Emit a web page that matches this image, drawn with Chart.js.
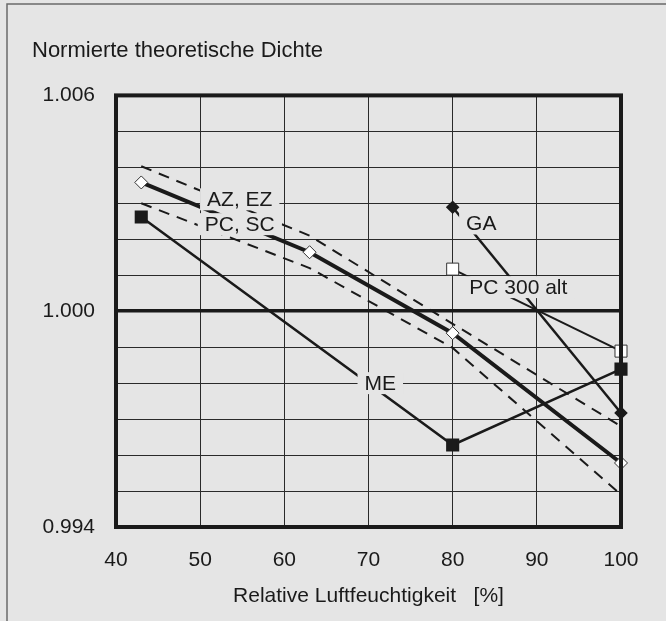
<!DOCTYPE html>
<html>
<head>
<meta charset="utf-8">
<script src="https://cdn.jsdelivr.net/npm/chart.js@4"></script>
<style>
  html, body { margin: 0; padding: 0; background: #e5e5e5; }
  #wrap { width: 666px; height: 621px; }
</style>
</head>
<body>
<div id="wrap"><canvas id="chart" width="666" height="621"></canvas></div>
<script>
// humidity (%) at which the series were measured
const humFull = [43, 63, 80, 100],
  humME = [43, 80, 100],
  humLate = [80, 100];

// normalised theoretical density
const azEz = [1.00358, 1.00164, 0.99939, 0.99578],
  azUpper = [1.00403, 1.0021, 0.99965, 0.9968],
  azLower = [1.0030, 1.0012, 0.99898, 0.9949],
  me = [1.00262, 0.99628, 0.99839],
  ga = [1.00289, 0.99717],
  pc300 = [1.00117, 0.99889];

const yLabelled = [0.994, 1.000, 1.006],
  xTicks = [40, 50, 60, 70, 80, 90, 100];

const ink = '#1a1a1a',
  bg = '#e5e5e5',
  font = 'Liberation Sans, Arial, sans-serif';

const pts = (xs, ys) => xs.map((x, i) => ({ x: x, y: ys[i] }));

// series labels written into the plot (text, x, y in data units)
const seriesLabels = [
  ['AZ, EZ', 54.7, 1.00311],
  ['PC, SC', 54.7, 1.00242],
  ['GA', 83.4, 1.00244],
  ['PC 300 alt', 87.8, 1.00067],
  ['ME', 71.4, 0.99800]
];

const paperPlugin = {
  id: 'paper',
  beforeDraw(chart) {
    const c = chart.ctx;
    c.save();
    c.fillStyle = bg;
    c.fillRect(0, 0, chart.width, chart.height);
    c.strokeStyle = '#6a6a6a';
    c.lineWidth = 1.5;
    c.beginPath();
    c.moveTo(7, chart.height);
    c.lineTo(7, 4);
    c.lineTo(chart.width, 4);
    c.stroke();
    c.restore();
  },
  afterDatasetsDraw(chart) {
    const c = chart.ctx, xs = chart.scales.x, ys = chart.scales.y;
    c.save();
    c.font = '21px ' + font;
    c.textAlign = 'center';
    c.textBaseline = 'middle';
    seriesLabels.forEach(([txt, x, y]) => {
      const px = xs.getPixelForValue(x), py = ys.getPixelForValue(y);
      const w = c.measureText(txt).width;
      c.fillStyle = bg;
      c.fillRect(px - w / 2 - 7, py - 11, w + 14, 22);
      c.fillStyle = ink;
      c.fillText(txt, px, py + 1);
    });
    const a = chart.chartArea;
    c.strokeStyle = ink;
    c.lineWidth = 4;
    c.strokeRect(a.left, a.top, a.right - a.left, a.bottom - a.top);
    c.restore();
  }
};

const dashed = (data) => ({
  data: data,
  borderColor: ink,
  borderWidth: 2,
  borderDash: [11, 8],
  pointRadius: 0,
  clip: false
});

new Chart(document.getElementById('chart'), {
  type: 'line',
  data: {
    datasets: [
      dashed(pts(humFull, azUpper)),
      dashed(pts(humFull, azLower)),
      {
        data: pts(humFull, azEz),
        borderColor: ink,
        borderWidth: 4,
        pointStyle: 'rectRot',
        pointRadius: 6.5,
        pointBackgroundColor: '#ffffff',
        pointBorderColor: '#333333',
        pointBorderWidth: 1,
        clip: false
      },
      {
        data: pts(humME, me),
        borderColor: ink,
        borderWidth: 2.5,
        pointStyle: 'rect',
        pointRadius: 7.5,
        pointBackgroundColor: ink,
        pointBorderColor: ink,
        clip: false
      },
      {
        data: pts(humLate, ga),
        borderColor: ink,
        borderWidth: 2.5,
        pointStyle: 'rectRot',
        pointRadius: 5,
        pointBackgroundColor: ink,
        pointBorderColor: ink,
        clip: false
      },
      {
        data: pts(humLate, pc300),
        borderColor: ink,
        borderWidth: 2,
        pointStyle: 'rect',
        pointRadius: 8.5,
        pointBackgroundColor: '#ffffff',
        pointBorderColor: '#333333',
        pointBorderWidth: 1,
        clip: false
      }
    ]
  },
  options: {
    responsive: false,
    animation: false,
    layout: { padding: { left: 32, right: 45, top: 0, bottom: 0 } },
    plugins: {
      legend: { display: false },
      tooltip: { enabled: false },
      title: {
        display: true,
        text: 'Normierte theoretische Dichte',
        align: 'start',
        color: ink,
        font: { family: font, size: 22, weight: 'normal' },
        padding: { top: 38, bottom: 31 }
      }
    },
    scales: {
      x: {
        type: 'linear',
        min: 40,
        max: 100,
        afterBuildTicks(scale) { scale.ticks = xTicks.map(v => ({ value: v })); },
        afterFit(scale) { scale.height = 94; },
        grid: { color: '#2a2a2a', lineWidth: 1, drawTicks: false },
        border: { display: false },
        ticks: { color: ink, padding: 21, font: { family: font, size: 21 }, maxRotation: 0 },
        title: {
          display: true,
          text: 'Relative Luftfeuchtigkeit   [%]',
          color: ink,
          font: { family: font, size: 21 },
          padding: { top: 0, bottom: 12 }
        }
      },
      y: {
        min: 0.994,
        max: 1.006,
        afterBuildTicks(scale) {
          const t = [];
          for (let i = 0; i <= 12; i++) t.push({ value: 0.994 + i * 0.001 });
          scale.ticks = t;
        },
        afterFit(scale) { scale.width = 84; },
        grid: {
          color: (c) => Math.abs(c.tick.value - 1) < 1e-7 ? ink : '#2a2a2a',
          drawTicks: false,
          lineWidth: (c) => Math.abs(c.tick.value - 1) < 1e-7 ? 3.5 : 1
        },
        border: { display: false },
        ticks: {
          color: ink,
          padding: 21,
          font: { family: font, size: 21 },
          callback: (v) => yLabelled.some(l => Math.abs(l - v) < 1e-7) ? v.toFixed(3) : ''
        }
      }
    }
  },
  plugins: [paperPlugin]
});
</script>
</body>
</html>
